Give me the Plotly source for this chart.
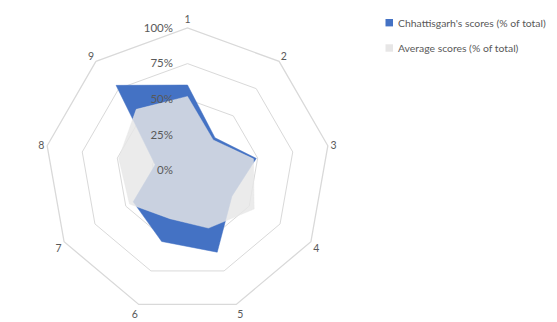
import plotly.graph_objects as go

categories = ["1", "2", "3", "4", "5", "6", "7", "8", "9"]
chhattisgarh = [0.60, 0.30, 0.49, 0.36, 0.61, 0.53, 0.44, 0.23, 0.78]
average = [0.52, 0.28, 0.47, 0.54, 0.43, 0.36, 0.47, 0.49, 0.56]
radial_ticks = [0, 0.25, 0.5, 0.75, 1.0]
radial_labels = ["0%", "25%", "50%", "75%", "100%"]
series_names = ["Chhattisgarh's scores (% of total)", "Average scores (% of total)"]
series_colors = ["#4472C4", "rgba(230,230,231,0.82)"]
legend_colors = ["#4472C4", "#E7E6E6"]

FONT = "Lato, 'Open Sans', sans-serif"
GRID = "#d9d9d9"
TXT = "#595959"

fig = go.Figure()
for vals, name, col in zip([chhattisgarh, average], series_names, series_colors):
    fig.add_trace(go.Scatterpolar(
        r=vals + vals[:1], theta=categories + categories[:1],
        name=name, mode="lines", fill="toself", fillcolor=col,
        line=dict(color=col, width=0.5), showlegend=False,
    ))

# legend drawn as square swatches + text
W, H = 557, 322
legend_rows_y = [14.7, 40]
for yc, name, col in zip(legend_rows_y, series_names, legend_colors):
    fig.add_shape(type="rect", xref="paper", yref="paper",
                  x0=377.5 / W, x1=385 / W, y0=1 - (yc + 3.7) / H, y1=1 - (yc - 3.7) / H,
                  fillcolor=col, line=dict(width=0))
    fig.add_annotation(xref="paper", yref="paper", x=387.5 / W, y=1 - yc / H,
                       xanchor="left", yanchor="middle", showarrow=False,
                       text=name, font=dict(size=10.4, color=TXT, family=FONT))

cx, cy, R = 179.5, 162.5, 142.5
fig.update_layout(
    width=W, height=H,
    margin=dict(l=0, r=0, t=0, b=0),
    paper_bgcolor="white",
    font=dict(family=FONT, color=TXT, size=11),
    polar=dict(
        domain=dict(x=[(cx - R) / W, (cx + R) / W], y=[(H - cy - R) / H, (H - cy + R) / H]),
        gridshape="linear",
        bgcolor="white",
        radialaxis=dict(
            range=[0, 1], tickvals=radial_ticks, ticktext=radial_labels,
            angle=90, tickangle=90, side="counterclockwise",
            showline=False, ticks="outside", ticklen=10, tickcolor="rgba(0,0,0,0)",
            gridcolor=GRID, gridwidth=1.3,
            tickfont=dict(size=11.5, color=TXT),
        ),
        angularaxis=dict(
            direction="clockwise", rotation=90,
            showgrid=False, showline=True, linecolor=GRID, linewidth=1.3,
            ticks="",
            tickfont=dict(size=10.5, color=TXT),
        ),
    ),
    showlegend=False,
)

fig.write_html("out.html")
